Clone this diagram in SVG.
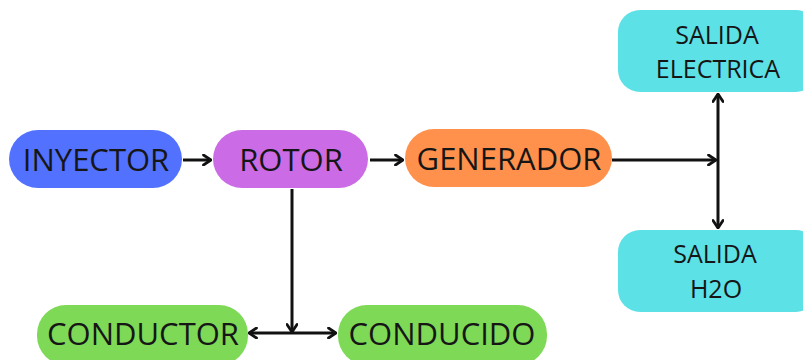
<svg xmlns="http://www.w3.org/2000/svg" width="803" height="360" viewBox="0 0 803 360">
  <defs>
    <marker id="chev" viewBox="0 0 10 12" refX="9" refY="6" markerWidth="10" markerHeight="12" markerUnits="userSpaceOnUse" orient="auto-start-reverse">
      <path d="M1.5,1 L9,6 L1.5,11" fill="none" stroke="#111" stroke-width="2.8" stroke-linejoin="miter" stroke-linecap="round"/>
    </marker>
  </defs>
  <style>
    .lbl { font-family: "Open Sans", "Liberation Sans", sans-serif; fill: #161616; text-anchor: middle; }
    .big { font-size: 31px; }
    .small { font-size: 25px; }
    .wire { fill: none; stroke: #111; stroke-width: 3; }
  </style>
  <rect width="803" height="360" fill="#ffffff"/>

  <g id="connectors">
    <line class="wire" x1="183" y1="160" x2="211" y2="160" marker-end="url(#chev)"/>
    <line class="wire" x1="370" y1="160" x2="403" y2="160" marker-end="url(#chev)"/>
    <line class="wire" x1="612" y1="160" x2="716" y2="160" marker-end="url(#chev)"/>
    <line class="wire" x1="718" y1="94" x2="718" y2="228" marker-start="url(#chev)" marker-end="url(#chev)"/>
    <line class="wire" x1="292" y1="189" x2="292" y2="332" marker-end="url(#chev)"/>
    <line class="wire" x1="249" y1="333" x2="336" y2="333" marker-start="url(#chev)" marker-end="url(#chev)"/>
  </g>

  <g id="inyector">
    <rect x="9" y="130" width="173" height="58" rx="29" fill="#5271ff"/>
    <text class="lbl big" x="96" y="171">INYECTOR</text>
  </g>
  <g id="rotor">
    <rect x="213" y="130" width="155" height="58" rx="29" fill="#cb6ce6"/>
    <text class="lbl big" x="291" y="171">ROTOR</text>
  </g>
  <g id="generador">
    <rect x="405" y="129" width="207" height="58" rx="29" fill="#ff914d"/>
    <text class="lbl big" x="509" y="170">GENERADOR</text>
  </g>
  <g id="salida-electrica">
    <rect x="618" y="10" width="200" height="82" rx="22" fill="#5ce1e6"/>
    <text class="lbl small" x="717" y="44">SALIDA</text>
    <text class="lbl small" x="718" y="78">ELECTRICA</text>
  </g>
  <g id="salida-h2o">
    <rect x="618" y="230" width="200" height="82" rx="22" fill="#5ce1e6"/>
    <text class="lbl small" x="715" y="263">SALIDA</text>
    <text class="lbl small" x="716" y="298">H2O</text>
  </g>
  <g id="conductor">
    <rect x="37" y="305" width="211" height="60" rx="29" fill="#7ed957"/>
    <text class="lbl big" x="143" y="345">CONDUCTOR</text>
  </g>
  <g id="conducido">
    <rect x="338" y="305" width="209" height="60" rx="29" fill="#7ed957"/>
    <text class="lbl big" x="442" y="345">CONDUCIDO</text>
  </g>
</svg>
